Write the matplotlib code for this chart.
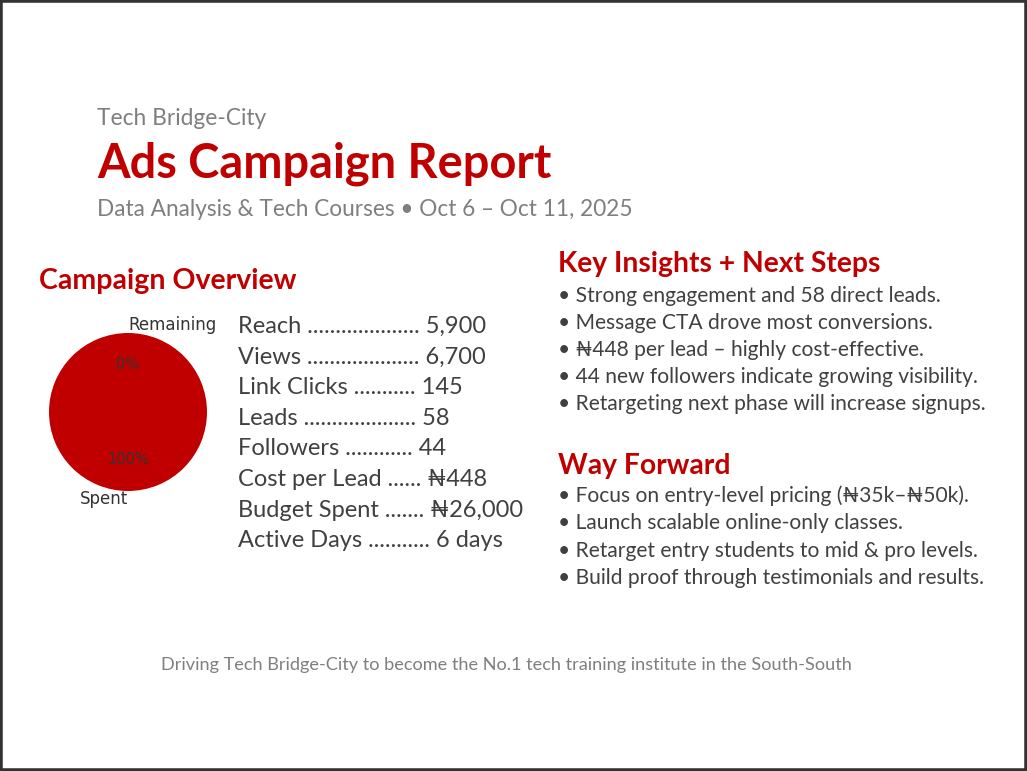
import matplotlib
matplotlib.use("Agg")
import matplotlib.pyplot as plt
from matplotlib.patches import Rectangle

FONT = ['Lato', 'DejaVu Sans']
RED = '#C00000'
GRAY = '#7F7F7F'
DARK = '#404040'

org_name = "Tech Bridge-City"
title = "Ads Campaign Report"
subtitle = "Data Analysis & Tech Courses \u2022 Oct 6 \u2013 Oct 11, 2025"

pie_labels = ["Remaining", "Spent"]
pie_values = [0, 26000]

metric_lines = [
    "Reach .................... 5,900",
    "Views .................... 6,700",
    "Link Clicks ........... 145",
    "Leads .................... 58",
    "Followers ............ 44",
    "Cost per Lead ...... \u20a6448",
    "Budget Spent ....... \u20a626,000",
    "Active Days ........... 6 days",
]

insights = [
    "Strong engagement and 58 direct leads.",
    "Message CTA drove most conversions.",
    "\u20a6448 per lead \u2013 highly cost-effective.",
    "44 new followers indicate growing visibility.",
    "Retargeting next phase will increase signups.",
]

way_forward = [
    "Focus on entry-level pricing (\u20a635k\u2013\u20a650k).",
    "Launch scalable online-only classes.",
    "Retarget entry students to mid & pro levels.",
    "Build proof through testimonials and results.",
]

footer = "Driving Tech Bridge-City to become the No.1 tech training institute in the South-South"

W, H = 1027, 771
fig = plt.figure(figsize=(W / 100, H / 100), dpi=100)
fig.patch.set_facecolor('white')


def T(x, y, s, **kw):
    kw.setdefault('family', FONT)
    kw.setdefault('va', 'baseline')
    fig.text(x / W, 1 - y / H, s, **kw)


T(97, 125, org_name, size=16.4, color=GRAY)
T(97, 178, title, size=33.8, color=RED, weight='bold')
T(97, 216, subtitle, size=16.3, color=GRAY)

T(39, 289, "Campaign Overview", size=20.5, color=RED, weight='bold')

# pie
cx, cy, r = 128, 412, 79
half = 1.25 * r
ax = fig.add_axes([(cx - half) / W, (H - cy - half) / H, 2 * half / W, 2 * half / H])
wedges, ltexts, ptexts = ax.pie(pie_values, labels=pie_labels, colors=['#E06666', RED],
                                startangle=90, autopct='%1.0f%%',
                                textprops=dict(size=12, color='#333333', family='DejaVu Sans'))
ltexts[0].set_ha('left')
ltexts[1].set_ha('right')
for t in ptexts:
    t.set_fontsize(10.5)
ax.set_aspect('equal')

y0 = 333
for i, line in enumerate(metric_lines):
    T(238, y0 + i * 30.6, line, size=17, color=DARK)

T(558, 272, "Key Insights + Next Steps", size=20.3, color=RED, weight='bold')
for i, line in enumerate(insights):
    T(558, 302 + i * 27, "\u2022 " + line, size=15.1, color=DARK)

T(558, 474, "Way Forward", size=20.3, color=RED, weight='bold')
for i, line in enumerate(way_forward):
    T(558, 502 + i * 27.3, "\u2022 " + line, size=15.1, color=DARK)

T(506, 670, footer, size=13.1, color=GRAY, ha='center')

fig.patches.append(Rectangle((0, 0), 1, 1, transform=fig.transFigure, fill=False,
                             edgecolor='#333333', linewidth=4, zorder=10))

fig.savefig('out.png', dpi=100, facecolor='white')
